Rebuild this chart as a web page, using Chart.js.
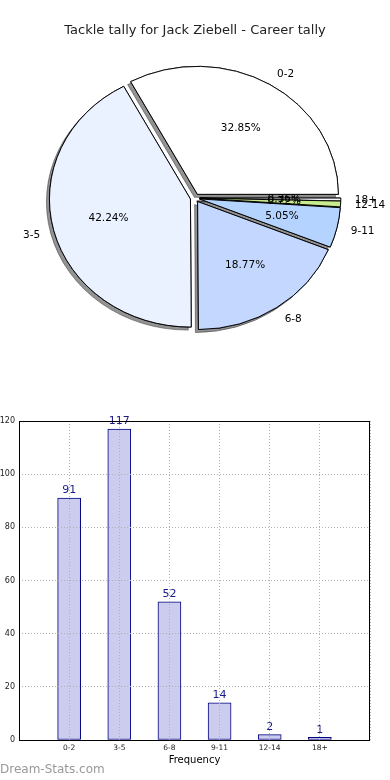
<!DOCTYPE html>
<html>
<head>
<meta charset="utf-8">
<script src="https://cdn.jsdelivr.net/npm/chart.js@4.4.1/dist/chart.umd.min.js"></script>
<style>
  body { margin: 0; background: #fff; }
  #wrap { position: relative; width: 390px; height: 780px; overflow: hidden; }
  #pieChart { position: absolute; left: 0; top: 0; }
  #barChart { position: absolute; left: 0; top: 400px; }
  #brand { position: absolute; left: 0; top: 762px; font: 12px 'DejaVu Sans', sans-serif; color: #999; }
</style>
</head>
<body>
<div id="wrap">
  <canvas id="pieChart" width="390" height="400"></canvas>
  <canvas id="barChart" width="390" height="380"></canvas>
  <div id="brand">Dream-Stats.com</div>
</div>
<script>
// datos
const categories = ['0-2', '3-5', '6-8', '9-11', '12-14', '18+'];
const tackleCounts = [91, 117, 52, 14, 2, 1];
const sliceColors = ['#ffffff', '#eaf1ff', '#c4d8ff', '#b4d4ff', '#c8eb8e', '#f5f5ff'];
const yMax = 120;
const yStep = 20;

const total = tackleCounts.reduce((a, b) => a + b, 0);
const FONT = "'DejaVu Sans', sans-serif";

// --- PIE ---
const ky = 128 / 141;   // la tarta original sale achatada
const explode = 4.7;
const pieRadius = 141;

function drawExploded(ctx, el) {
    const mid = (el.startAngle + el.endAngle) / 2;
    ctx.save();
    ctx.translate(Math.cos(mid) * explode, Math.sin(mid) * explode);
    el.draw(ctx);
    ctx.restore();
}

const pieShape = {
    id: 'pieShape',
    beforeDatasetsDraw(chart) {
        const ctx = chart.ctx;
        const a = chart.chartArea;
        const cy = (a.top + a.bottom) / 2;
        const meta = chart.getDatasetMeta(0);
        const ds = chart.data.datasets[0];

        ctx.save();
        ctx.translate(0, cy);
        ctx.scale(1, ky);
        ctx.translate(0, -cy);
        // primera pasada solo para la sombra
        ctx.save();
        ctx.shadowColor = 'rgba(40,40,40,0.5)';
        ctx.shadowOffsetX = -3;
        ctx.shadowOffsetY = 3;
        ctx.shadowBlur = 0;
        meta.data.forEach(el => drawExploded(ctx, el));
        ctx.restore();
        meta.data.forEach(el => drawExploded(ctx, el));
        ctx.restore();

        // textos
        ctx.save();
        ctx.font = '10.5px ' + FONT;
        ctx.fillStyle = '#000';
        ctx.textBaseline = 'middle';
        meta.data.forEach((el, i) => {
            const mid = (el.startAngle + el.endAngle) / 2;
            const c = Math.cos(mid), s = Math.sin(mid);
            const ox = el.x + c * explode;
            const oy = el.y + s * explode * ky;
            const r = pieRadius;
            ctx.textAlign = 'center';
            const pct = (ds.data[i] / total * 100).toFixed(2) + '%';
            ctx.fillText(pct, ox + c * r * 0.6, oy + s * r * 0.6 * ky);
            ctx.textAlign = c >= 0 ? 'left' : 'right';
            ctx.fillText(chart.data.labels[i], ox + c * r * 1.1, oy + s * r * 1.1 * ky + 1);
        });
        ctx.restore();
        return false;
    }
};

// Chart.js gira en sentido horario: se invierte el orden para imitar matplotlib
const pieLabels = categories.slice().reverse();
const pieData = tackleCounts.slice().reverse();
const pieColors = sliceColors.slice().reverse();

new Chart(document.getElementById('pieChart'), {
    type: 'pie',
    data: {
        labels: pieLabels,
        datasets: [{
            data: pieData,
            backgroundColor: pieColors,
            borderColor: '#000',
            borderWidth: 1,
            offset: 0,
            radius: pieRadius
        }]
    },
    options: {
        responsive: false,
        animation: false,
        rotation: 90,
        layout: { padding: { bottom: 54 } },
        plugins: {
            legend: { display: false },
            tooltip: { enabled: false },
            title: {
                display: true,
                text: 'Tackle tally for Jack Ziebell - Career tally',
                color: '#222',
                font: { family: FONT, size: 13, weight: 'normal' },
                padding: { top: 23, bottom: 11.4 }
            }
        }
    },
    plugins: [pieShape]
});

// --- BARRAS ---
const barExtras = {
    id: 'barExtras',
    afterDatasetsDraw(chart) {
        const ctx = chart.ctx;
        const meta = chart.getDatasetMeta(0);
        ctx.save();
        ctx.font = '11px ' + FONT;
        ctx.fillStyle = '#1a1a8c';
        ctx.textAlign = 'center';
        ctx.textBaseline = 'bottom';
        meta.data.forEach((el, i) => {
            ctx.fillText(String(tackleCounts[i]), el.x, el.y - 2);
        });
        ctx.restore();
    },
    afterDraw(chart) {
        const ctx = chart.ctx;
        const a = chart.chartArea;
        ctx.save();
        ctx.strokeStyle = '#000';
        ctx.lineWidth = 1;
        ctx.strokeRect(a.left + 0.5, a.top + 0.5, a.right - a.left - 1, a.bottom - a.top);
        ctx.restore();
    }
};

new Chart(document.getElementById('barChart'), {
    type: 'bar',
    data: {
        datasets: [{
            data: categories.map((c, i) => ({ x: i, y: tackleCounts[i] })),
            backgroundColor: '#ccccee',
            borderColor: '#000080',
            borderWidth: 1,
            borderSkipped: false,
            barThickness: 23
        }]
    },
    options: {
        responsive: false,
        animation: false,
        layout: { padding: { top: 21, right: 20, left: 0, bottom: 0 } },
        plugins: {
            legend: { display: false },
            tooltip: { enabled: false }
        },
        scales: {
            x: {
                type: 'linear',
                min: -1,
                max: 6,
                offset: false,
                afterFit: s => { s.height = 40; },
                ticks: {
                    stepSize: 1,
                    autoSkip: false,
                    padding: 4,
                    color: '#222',
                    font: { family: FONT, size: 7.5 },
                    callback: v => categories[v] ?? ''
                },
                grid: { color: '#b0b0b0', drawTicks: false, z: 1, offset: false },
                border: { display: false, dash: [1, 2] },
                title: {
                    display: true,
                    text: 'Frequency',
                    color: '#000',
                    font: { family: FONT, size: 10 },
                    padding: { top: 14, bottom: 14 }
                }
            },
            y: {
                min: 0,
                max: yMax,
                afterFit: s => { s.width = 19; },
                ticks: {
                    stepSize: yStep,
                    padding: 4,
                    color: '#222',
                    font: { family: FONT, size: 8 }
                },
                grid: { color: '#b0b0b0', drawTicks: false, z: 1 },
                border: { display: false, dash: [1, 2] }
            }
        }
    },
    plugins: [barExtras]
});
</script>
</body>
</html>
